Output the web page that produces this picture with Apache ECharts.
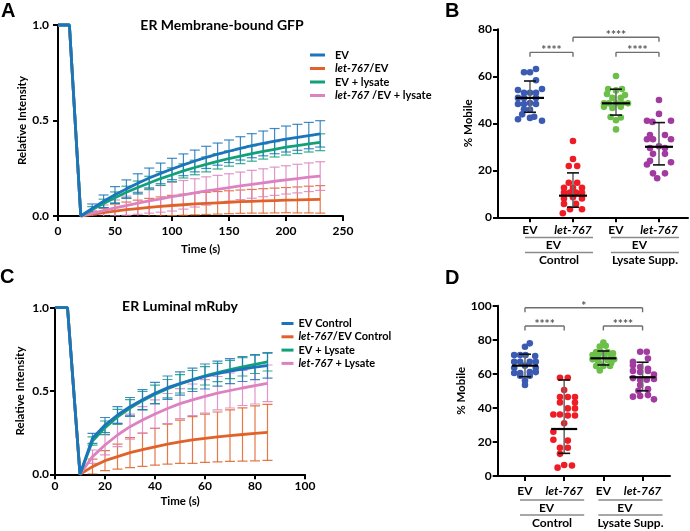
<!DOCTYPE html>
<html><head><meta charset="utf-8">
<script src="https://cdn.jsdelivr.net/npm/echarts@6/dist/echarts.min.js"></script>
<style>html,body{margin:0;padding:0;background:#fff}#c{width:690px;height:531px}</style>
</head><body><div id="c"></div>
<script>
// ---------------- DATA ----------------
// Panel A: ER membrane-bound GFP FRAP (time in s)
const timeA = [0,10,20,30,40,50,60,70,80,90,100,110,120,130,140,150,160,170,180,190,200,210,220,230];
const aEV     = [1,1,0,0.040,0.077,0.111,0.142,0.171,0.199,0.223,0.246,0.268,0.288,0.307,0.324,0.339,0.354,0.368,0.380,0.392,0.403,0.412,0.421,0.430];
const aLET    = [1,1,0,0.009,0.018,0.026,0.033,0.039,0.045,0.050,0.055,0.059,0.063,0.066,0.069,0.072,0.075,0.077,0.079,0.081,0.083,0.084,0.086,0.087];
const aEVL    = [1,1,0,0.034,0.066,0.096,0.124,0.149,0.173,0.196,0.216,0.236,0.254,0.270,0.286,0.301,0.314,0.327,0.338,0.349,0.360,0.369,0.378,0.386];
const aLETL   = [1,1,0,0.014,0.028,0.042,0.054,0.067,0.079,0.090,0.101,0.111,0.121,0.131,0.140,0.149,0.158,0.166,0.174,0.182,0.189,0.196,0.203,0.209];
const aEVsd   = [null,null,null,0.023,0.033,0.043,0.047,0.050,0.052,0.054,0.056,0.057,0.057,0.058,0.058,0.059,0.061,0.063,0.065,0.066,0.068,0.068,0.069,0.069];
const aLETsd  = [null,null,null,0.012,0.022,0.036,0.040,0.044,0.047,0.050,0.053,0.055,0.057,0.058,0.059,0.060,0.061,0.062,0.064,0.065,0.066,0.068,0.070,0.072];
const aEVLsd  = [null,null,null,0.015,0.022,0.030,0.032,0.034,0.035,0.036,0.036,0.037,0.038,0.039,0.040,0.040,0.040,0.040,0.040,0.040,0.041,0.042,0.043,0.044];
const aLETLsd = [null,null,null,0.015,0.030,0.042,0.050,0.058,0.064,0.070,0.075,0.075,0.074,0.074,0.073,0.072,0.072,0.073,0.073,0.074,0.074,0.075,0.075,0.075];
const namesA  = ['EV','let-767/EV','EV + lysate','let-767 /EV + lysate'];

// Panel C: ER luminal mRuby FRAP
const timeC = [0,5,10,15,20,25,30,35,40,45,50,55,60,65,70,75,80,85];
const cEV     = [1,1,0,0.216,0.296,0.356,0.406,0.448,0.487,0.520,0.545,0.567,0.587,0.604,0.619,0.632,0.643,0.652];
const cLET    = [1,1,0,0.046,0.082,0.106,0.130,0.148,0.165,0.181,0.195,0.206,0.216,0.224,0.232,0.239,0.246,0.252];
const cEVL    = [1,1,0,0.200,0.280,0.345,0.398,0.442,0.480,0.514,0.543,0.568,0.591,0.611,0.629,0.645,0.660,0.675];
const cLETL   = [1,1,0,0.106,0.176,0.236,0.286,0.326,0.362,0.395,0.424,0.447,0.468,0.487,0.503,0.518,0.532,0.546];
const cEVsd   = [null,null,null,0.030,0.045,0.050,0.055,0.060,0.065,0.070,0.070,0.070,0.075,0.075,0.075,0.075,0.075,0.075];
const cLETsd  = [null,null,null,0.045,0.060,0.075,0.090,0.100,0.110,0.120,0.130,0.140,0.145,0.150,0.155,0.160,0.165,0.168];
const cEVLsd  = [null,null,null,0.025,0.040,0.045,0.050,0.055,0.055,0.055,0.055,0.055,0.055,0.055,0.055,0.055,0.055,0.055];
const cLETLsd = [null,null,null,0.040,0.060,0.070,0.075,0.080,0.085,0.090,0.090,0.095,0.100,0.100,0.105,0.105,0.110,0.110];
const namesC  = ['EV Control','let-767/EV Control','EV + Lysate','let-767 + Lysate'];

// Panel B / D: % mobile, points as [swarm column, value]
const groupCats = ['EV','let-767','EV','let-767'];
const groupNames = ['Control','Lysate Supp.'];
const bEV   = [[-1,61.7],[0,61.7],[1,63.1],[1,58.3],[-2,54.2],[2,54.6],[-1,53.0],[0,53.0],[1,53.0],[-2,50.8],[-1,50.8],[1,50.8],[-2,48.2],[-1,48.2],[0,48.6],[1,48.2],[-1,46.0],[0,45.8],[-1.3,43.8],[0.7,42.8],[0,42.3],[-2,41.7],[2,41.1]];
const bLET  = [[0,32.5],[0,24.8],[-0.7,21.8],[0.7,21.8],[-0.7,14.7],[0.7,14.7],[-1.5,12.6],[0,12.6],[1.5,12.6],[-1.5,10.5],[-0.5,10.5],[0.5,10.5],[1.5,10.5],[-1.5,8.0],[0,8.5],[1.5,8.0],[-1.5,5.7],[0.5,5.7],[-0.5,3.4],[1.5,3.4],[-1.7,1.7]];
const bEVL  = [[0,60.1],[-1.3,54.6],[0,54.0],[1,54.6],[-1.5,52.5],[1.5,52.0],[-0.6,50.8],[0.8,50.8],[-2,48.5],[-1.2,48.5],[0,48.5],[1,48.5],[2,48.5],[-2,47.0],[-0.6,46.5],[0.8,47.0],[-0.9,42.7],[0.8,42.5],[0,41.3],[0,37.4]];
const bLETL = [[0,49.9],[0,44.0],[-2,41.1],[2,41.1],[-1.1,40.6],[-1.5,35.0],[1,35.0],[-2,33.2],[-1,33.2],[2,33.2],[0,30.2],[-1.5,29.5],[1,29.5],[-1,27.0],[1,27.0],[-1.5,24.0],[2,23.4],[-2,22.5],[-1,18.7],[1,18.7],[-0.3,16.6]];
const bMean = [50.8, 9.2, 48.5, 30.0];
const bLow  = [44.7, 4.3, 43.5, 22.3];
const bHigh = [58.0, 18.9, 54.5, 40.3];
const bBrackets = [[1,2,70.2],[2,4,76.6],[3,4,70.2]];
const bStars = ['****','****','****'];

const dEV   = [[0.8,77.9],[0,75.9],[-1.8,71],[-0.8,71],[0.1,71],[1.7,70.5],[-1.8,67.1],[-0.8,67.1],[0.8,67.1],[1.8,67.1],[0,64.8],[-1.8,63.5],[1.8,63.5],[-1.8,60.5],[-0.8,60.5],[0.8,61],[1.8,61],[-0.8,58.9],[0.8,58.9],[0,56],[0,53.4]];
const dLET  = [[-0.7,57.7],[0.6,57.7],[0,50.5],[-0.7,46.4],[0.6,46.4],[1.8,46.4],[-0.7,43.2],[1.8,43.2],[0.6,39.7],[1.8,39.7],[-1.8,36.1],[-0.7,36.1],[0.6,35.5],[1.8,35.5],[0,31],[-1.8,26],[-1.8,21.3],[0.6,20.8],[-0.7,16.6],[0.6,16.6],[-0.7,13],[-1.1,4.9],[0,6.5],[1.3,6.2]];
const dEVL  = [[0,78.3],[-0.6,76],[0.4,76.5],[-1.2,72.8],[-0.4,72.8],[0.7,72.8],[1.6,72],[-1.8,71],[-0.9,70.5],[0.2,71],[1.3,70],[-1.8,68.5],[-0.9,67.7],[0.7,68],[1.8,68.5],[-0.7,66.3],[1.3,66.3],[-1.2,64.6],[0,64.6],[1.1,64.6],[-0.6,62]];
const dLETL = [[-0.4,73],[0.7,73],[-1.6,67],[0.9,69],[-1.6,65],[-0.4,64],[0.9,63],[-1.6,61.7],[-0.4,61],[0.9,61.7],[1.9,59.5],[-1.6,57.5],[-0.4,56.5],[0.7,56.5],[1.9,57],[-0.4,53.4],[-0.7,50],[0.9,51],[-1.6,46.6],[-0.4,47],[0.9,47.5],[1.9,45]];
const dMean = [64.8, 27.6, 69.1, 58.0];
const dLow  = [58.3, 13.3, 65.2, 50.0];
const dHigh = [71.5, 56.4, 73.4, 66.8];
const dBrackets = [[1,4,98.8],[1,2,88.1],[3,4,88.1]];
const dStars = ['*','****','****'];

// ---------------- STYLE ----------------
const FONT = 'Lato, "Open Sans", sans-serif';
const lineColors = ['#1c75bc','#e0622a','#12a079','#dd82c0'];
const dotColors = ['#3b5bb2','#ee1d25','#6cc04a','#a23b9f'];
const grids = [
  {left:58, top:25, width:285, height:191},
  {left:498, top:29.3, width:190, height:188},
  {left:55, top:307.7, width:250, height:166.6},
  {left:497.7, top:305.7, width:172.3, height:170.3}
];
const xRanges = [[0,250],[0.256,4.675],[0,100],[0.304,4.70]];

function axisCommon(margin){
  return {
    axisLine:{show:true, onZero:false, lineStyle:{color:'#000', width:2}},
    axisTick:{show:true, length:5, lineStyle:{color:'#000', width:2}},
    splitLine:{show:false},
    axisLabel:{color:'#000', fontFamily:FONT, fontSize:12, fontWeight:'bold', margin:margin},
    nameTextStyle:{color:'#000', fontFamily:FONT, fontSize:11.5, fontWeight:'bold'},
    nameLocation:'middle'
  };
}
function merge(a,b){ const o=Object.assign({},a); for(const k in b){ if(o[k] && typeof o[k]==='object' && !Array.isArray(o[k]) && typeof b[k]==='object') o[k]=Object.assign({},o[k],b[k]); else o[k]=b[k]; } return o; }

const catFormatter = v => { const i = Math.round(v)-1; return groupCats[i]==='let-767' ? '{i|let-767}' : groupCats[i]; };
const richItalic = {i:{fontStyle:'italic', fontWeight:'bold', fontFamily:FONT, fontSize:12, color:'#000'}};

const xAxis = [
  merge(axisCommon(9), {gridIndex:0, type:'value', min:0, max:250, interval:50, name:'Time (s)', nameGap:27}),
  merge(axisCommon(7), {gridIndex:1, type:'value', min:xRanges[1][0], max:xRanges[1][1],
    axisTick:{show:true, length:5, lineStyle:{color:'#000', width:2}, customValues:[1,2,3,4]},
    axisLabel:{color:'#000', fontFamily:FONT, fontSize:12, fontWeight:'bold', margin:7, customValues:[1,2,3,4], formatter:catFormatter, rich:richItalic}}),
  merge(axisCommon(6), {gridIndex:2, type:'value', min:0, max:100, interval:20, name:'Time (s)', nameGap:21}),
  merge(axisCommon(9), {gridIndex:3, type:'value', min:xRanges[3][0], max:xRanges[3][1],
    axisTick:{show:true, length:5, lineStyle:{color:'#000', width:2}, customValues:[1,2,3,4]},
    axisLabel:{color:'#000', fontFamily:FONT, fontSize:12, fontWeight:'bold', margin:9, customValues:[1,2,3,4], formatter:catFormatter, rich:richItalic}})
];
const yAxis = [
  merge(axisCommon(9), {gridIndex:0, type:'value', min:0, max:1, interval:0.5, name:'Relative Intensity', nameGap:30,
    axisLabel:{color:'#000', fontFamily:FONT, fontSize:12, fontWeight:'bold', margin:9, formatter:v=>v.toFixed(1)}}),
  merge(axisCommon(6), {gridIndex:1, type:'value', min:0, max:80, interval:20, name:'% Mobile', nameGap:22}),
  merge(axisCommon(6), {gridIndex:2, type:'value', min:0, max:1, interval:0.5, name:'Relative Intensity', nameGap:29,
    axisLabel:{color:'#000', fontFamily:FONT, fontSize:12, fontWeight:'bold', margin:6, formatter:v=>v.toFixed(1)}}),
  merge(axisCommon(6), {gridIndex:3, type:'value', min:0, max:100, interval:20, name:'% Mobile', nameGap:23})
];

// ---------------- SERIES ----------------
const series = [];
function errSeries(g, times, means, sds, color, z){
  const data = [];
  times.forEach((t,i)=>{ if(sds[i]!=null) data.push([t, means[i]-sds[i], means[i]+sds[i]]); });
  return {type:'custom', xAxisIndex:g, yAxisIndex:g, data, z, silent:true, clip:true,
    encode:{x:0, y:[1,2]},
    renderItem(params, api){
      const p1 = api.coord([api.value(0), api.value(1)]);
      const p2 = api.coord([api.value(0), api.value(2)]);
      const hw = 5, st = {stroke:color, lineWidth:1.2, opacity:0.85};
      return {type:'group', children:[
        {type:'line', shape:{x1:p1[0],y1:p1[1],x2:p1[0],y2:p2[1]}, style:st},
        {type:'line', shape:{x1:p1[0]-hw,y1:p1[1],x2:p1[0]+hw,y2:p1[1]}, style:st},
        {type:'line', shape:{x1:p1[0]-hw,y1:p2[1],x2:p1[0]+hw,y2:p2[1]}, style:st}
      ]};
    }};
}
function lineSeries(g, name, times, means, color, z){
  return {type:'line', name, xAxisIndex:g, yAxisIndex:g, data:times.map((t,i)=>[t,means[i]]),
    showSymbol:false, symbol:'none', clip:false, z, silent:true,
    lineStyle:{color, width:2.8}, itemStyle:{color}};
}
// draw order: orange, pink, green, blue (blue on top)
const aMeans=[aEV,aLET,aEVL,aLETL], aSds=[aEVsd,aLETsd,aEVLsd,aLETLsd];
const cMeans=[cEV,cLET,cEVL,cLETL], cSds=[cEVsd,cLETsd,cEVLsd,cLETLsd];
const order=[1,3,2,0];
order.forEach((k,j)=>{
  series.push(errSeries(0, timeA, aMeans[k], aSds[k], lineColors[k], 2+j));
  series.push(errSeries(2, timeC, cMeans[k], cSds[k], lineColors[k], 2+j));
});
order.forEach((k,j)=>{
  series.push(lineSeries(0, namesA[k], timeA, aMeans[k], lineColors[k], 10+j));
  series.push(lineSeries(2, namesC[k], timeC, cMeans[k], lineColors[k], 10+j));
});

function colStep(g){ const r=xRanges[g]; return 6/(grids[g].width/(r[1]-r[0])); }
function dotSeries(g, pts, cat, color){
  const s = colStep(g);
  return {type:'scatter', xAxisIndex:g, yAxisIndex:g, symbol:'circle', symbolSize:6.6, silent:true, z:5,
    itemStyle:{color, opacity:1}, data:pts.map(p=>[cat + p[0]*s, p[1]])};
}
[bEV,bLET,bEVL,bLETL].forEach((pts,i)=>series.push(dotSeries(1, pts, i+1, dotColors[i])));
[dEV,dLET,dEVL,dLETL].forEach((pts,i)=>series.push(dotSeries(3, pts, i+1, dotColors[i])));

function meanSdSeries(g, means, lows, highs, halfMean){
  return {type:'custom', xAxisIndex:g, yAxisIndex:g, z:8, silent:true,
    data:means.map((m,i)=>[i+1, m, lows[i], highs[i]]), encode:{x:0, y:[1,2,3]},
    renderItem(params, api){
      const x=api.value(0);
      const pm=api.coord([x,api.value(1)]), pl=api.coord([x,api.value(2)]), ph=api.coord([x,api.value(3)]);
      return {type:'group', children:[
        {type:'line', shape:{x1:pm[0],y1:pl[1],x2:pm[0],y2:ph[1]}, style:{stroke:'#6b6b6b',lineWidth:1.6}},
        {type:'line', shape:{x1:pm[0]-6,y1:pl[1],x2:pm[0]+6,y2:pl[1]}, style:{stroke:'#111',lineWidth:1.6}},
        {type:'line', shape:{x1:pm[0]-6,y1:ph[1],x2:pm[0]+6,y2:ph[1]}, style:{stroke:'#111',lineWidth:1.6}},
        {type:'line', shape:{x1:pm[0]-halfMean,y1:pm[1],x2:pm[0]+halfMean,y2:pm[1]}, style:{stroke:'#000',lineWidth:2.2}}
      ]};
    }};
}
series.push(meanSdSeries(1, bMean, bLow, bHigh, 14));
series.push(meanSdSeries(3, dMean, dLow, dHigh, 13));

function bracketSeries(g, brs, stars){
  return {type:'custom', xAxisIndex:g, yAxisIndex:g, z:8, silent:true, clip:false,
    data:brs, encode:{x:[0,1], y:2},
    renderItem(params, api){
      const a=api.coord([api.value(0),api.value(2)]), b=api.coord([api.value(1),api.value(2)]);
      const st={stroke:'#6e6e6e', lineWidth:1.4};
      return {type:'group', children:[
        {type:'line', shape:{x1:a[0],y1:a[1],x2:b[0],y2:b[1]}, style:st},
        {type:'line', shape:{x1:a[0],y1:a[1],x2:a[0],y2:a[1]+4.5}, style:st},
        {type:'line', shape:{x1:b[0],y1:b[1],x2:b[0],y2:b[1]+4.5}, style:st},
        {type:'text', x:(a[0]+b[0])/2, y:a[1]-2, style:{text:stars[params.dataIndex], fill:'#555', font:'bold 12px '+FONT, align:'center', verticalAlign:'middle'}}
      ]};
    }};
}
series.push(bracketSeries(1, bBrackets, bStars));
series.push(bracketSeries(3, dBrackets, dStars));

const richLegend = {i:{fontStyle:'italic', fontWeight:'bold', fontFamily:FONT, fontSize:11, color:'#000', lineHeight:13}};
const legendText = {color:'#000', fontFamily:FONT, fontSize:11, fontWeight:'bold', lineHeight:13, rich:richLegend};
const legendFmt = n => n.replace('let-767','{i|let-767}');

const option = {
  animation:false,
  backgroundColor:'#fff',
  grid: grids.map(g=>Object.assign({outerBoundsMode:'none', containLabel:false}, g)),
  xAxis, yAxis, series,
  legend:[
    {data:namesA, orient:'vertical', left:305, top:43.5, itemWidth:20, itemHeight:3,
     icon:'path://M0,0H15V3H0Z M20,0H20.02V3H20Z', itemGap:0.5,
     selectedMode:false, textStyle:legendText, formatter:legendFmt},
    {data:namesC, orient:'vertical', left:276.5, top:312, itemWidth:12, itemHeight:3, icon:'rect', itemGap:0.3,
     selectedMode:false, textStyle:legendText, formatter:legendFmt}
  ]
};

const chart = echarts.init(document.getElementById('c'), null, {renderer:'canvas'});
chart.setOption(option);

// ---------------- ANNOTATIONS ----------------
const gfx = [];
function txt(x,y,text,font,align,extra){
  gfx.push({type:'text', x, y, silent:true, style:Object.assign({text, font, fill:'#000', align:align||'center', verticalAlign:'middle'}, extra||{})});
}
const LETTER = 'bold 20px "Liberation Sans", Arial, sans-serif';
txt(1,11,'A',LETTER,'left');
txt(445,11,'B',LETTER,'left');
txt(0,277,'C',LETTER,'left');
txt(445,278,'D',LETTER,'left');
txt(222,25,'ER Membrane-bound GFP','bold 14px '+FONT);
txt(180,306,'ER Luminal mRuby','bold 14px '+FONT);

function groupLabels(g, line1, evY, line2, nameY){
  const c = [1,2,3,4].map(k=>chart.convertToPixel({xAxisIndex:g}, k));
  const y0 = chart.convertToPixel({yAxisIndex:g}, 0);
  [[c[0],c[1]],[c[2],c[3]]].forEach((pr,i)=>{
    const x1 = pr[0]-5, x2 = pr[1]+20, mid=(x1+x2)/2;
    [line1,line2].forEach(dy=>gfx.push({type:'line', silent:true, shape:{x1, y1:y0+dy, x2, y2:y0+dy}, style:{stroke:'#8a8a8a', lineWidth:1.5}}));
    txt((pr[0]+pr[1])/2+2, y0+evY, 'EV', 'bold 12px '+FONT);
    txt(mid, y0+nameY, groupNames[i], 'bold 12px '+FONT);
  });
}
groupLabels(1, 20.2, 27.7, 35.2, 42.7);
groupLabels(3, 24, 31.7, 39, 47.3);

chart.setOption({graphic:{elements:gfx}});
</script>
</body></html>
